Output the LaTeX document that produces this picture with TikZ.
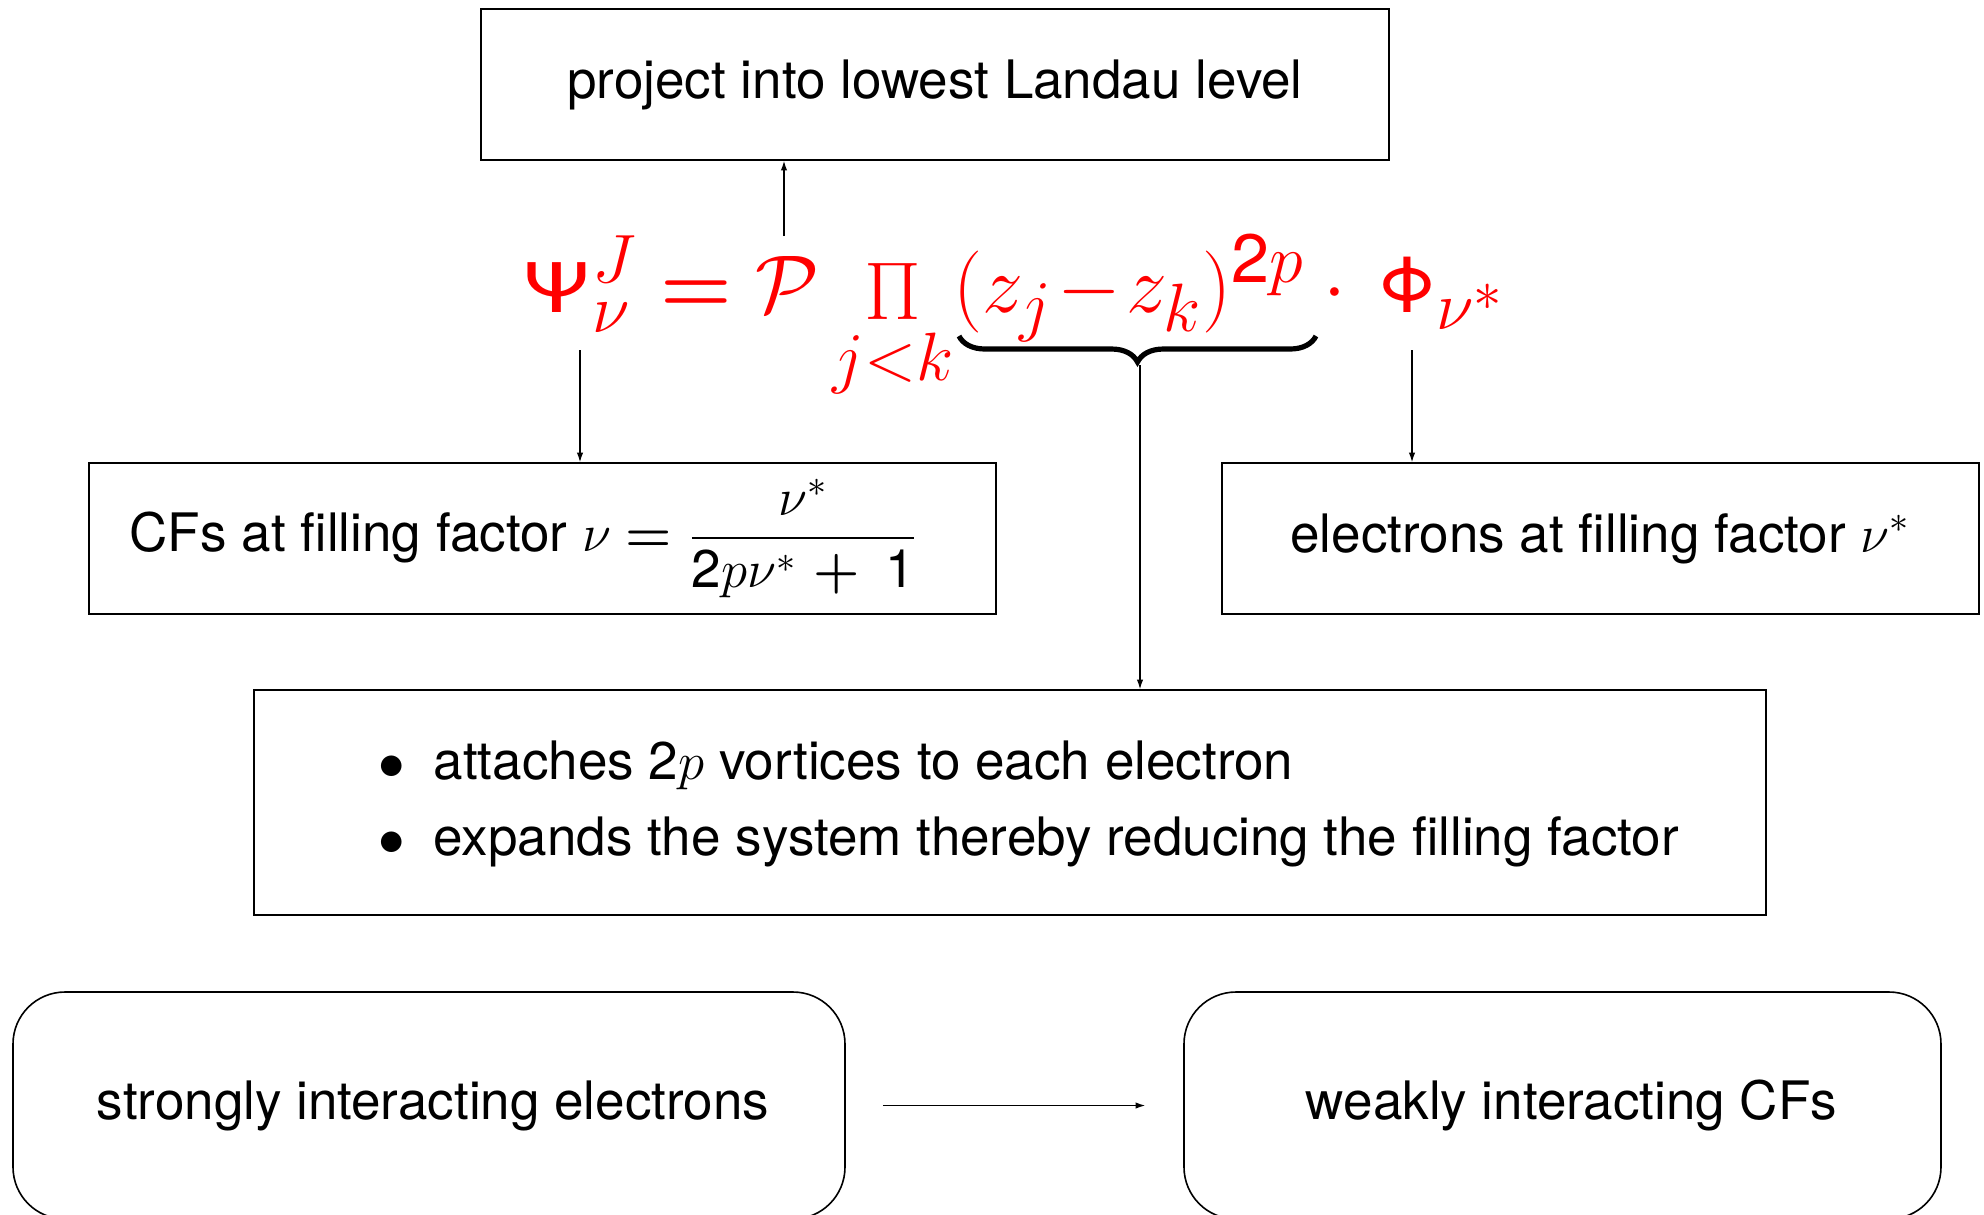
\RequirePackage{fix-cm}
\documentclass[tikz,border=0pt]{standalone}
\usepackage{amsmath}
\usepackage{graphicx}
\usepackage[no-math]{fontspec}
\setmainfont{TeX Gyre Heros}
\usetikzlibrary{arrows.meta,decorations.pathreplacing}
\DeclareMathSizes{20.5}{20.5}{17.1}{14.2}
\newcommand\gsans[1]{\text{\fontsize{19}{22}\selectfont #1}}
\begin{document}
\begin{tikzpicture}[x=0.25pt,y=-0.25pt,
  box/.style={draw, line width=0.4pt, inner sep=0pt, font=\fontsize{13.25}{16}\selectfont},
  rbox/.style={box, rounded corners=13pt},
  txt/.style={inner sep=0pt, font=\fontsize{13.25}{16}\selectfont},
  conn/.style={line width=0.3pt},
  arr/.style={conn, -{Latex[length=2.4pt,width=1.6pt]}},
  bracestyle/.style={line width=1.3pt, decorate, decoration={brace, mirror, amplitude=6.5pt}},
  eqn/.style={inner sep=0pt, text=red, font=\fontsize{20.5}{24}\selectfont}]
\useasboundingbox (0,0) rectangle (1984,1214);
\clip (0,0) rectangle (1984,1214);

% boxes
\node[box, minimum width=227pt, minimum height=37.75pt] (top) at (935,84.5) {project into lowest Landau level};
\node[box, minimum width=226.75pt, minimum height=37.75pt] (cf) at (542.5,538.5)
  {CFs at filling factor $\nu\mathrel{\boldsymbol{=}}\dfrac{\nu^*}{\text{2}p\nu^*\mkern1.5mu\mathbin{\boldsymbol{+}}\mkern4.5mu\text{1}}$\hspace*{9pt}};
\node[box, minimum width=189.25pt, minimum height=37.75pt] (el) at (1600.5,538.5)
  {electrons at filling factor $\nu^*$};
\node[box, minimum width=378pt, minimum height=56.25pt] (mid) at (1010,802.5) {};
\node[txt, anchor=base west] (b1) at (378,779) {$\bullet$\hspace{7.1pt}attaches 2$p$ vortices to each electron};
\node[txt, anchor=base west] (b2) at (378,855) {$\bullet$\hspace{7.1pt}expands the system thereby reducing the filling factor};
\node[rbox, minimum width=208pt, minimum height=56.75pt] (bl) at (429,1105.5) {\hspace*{2pt}strongly interacting electrons};
\node[rbox, minimum width=189.25pt, minimum height=56.75pt] (br) at (1562.5,1105.5) {\hspace*{4.5pt}weakly interacting CFs};

% equation
\node[eqn, anchor=base west] (eq) at (521,312)
  {$\gsans{\scalebox{1.25}[0.9]{Ψ}}^J_\nu\mathrel{\boldsymbol{=}}\mathcal{P}\mathop{\Pi}\limits_{j<k}(z_j\mkern1mu{-}\mkern1mu z_k)^{\text{2}p}\cdot\mkern3mu\gsans{Φ}_{\nu^*}$};

% brace
\coordinate (brL) at (959,336);
\coordinate (brR) at (1316,336);
\draw[bracestyle] (brL) -- (brR);

% connectors
\coordinate (eqtop) at (784,236);
\coordinate (psi) at (580,350);
\coordinate (phi) at (1412,350);
\coordinate (brace) at (1140,365);
\draw[arr] (eqtop) -- (eqtop |- top.south);
\draw[arr] (psi) -- (psi |- cf.north);
\draw[arr] (phi) -- (phi |- el.north);
\draw[arr] (brace) -- (brace |- mid.north);
\draw[arr] ([xshift=9.25pt]bl.east) -- ([xshift=-9.5pt]br.west);
\end{tikzpicture}
\end{document}
